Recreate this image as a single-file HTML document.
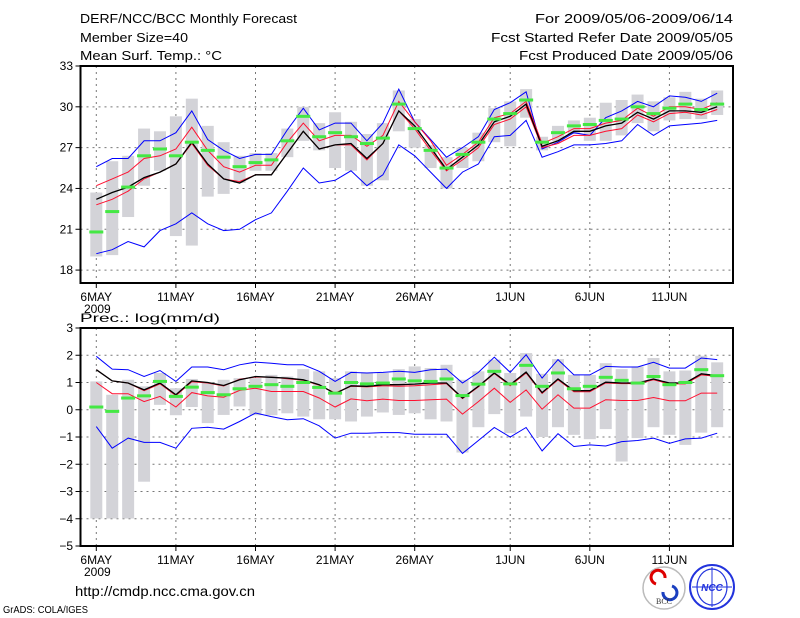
<!DOCTYPE html>
<html><head><meta charset="utf-8">
<style>
html,body{margin:0;padding:0;background:#fff;}
svg{display:block;font-family:"Liberation Sans",sans-serif;}
</style></head>
<body>
<svg id="chart" width="800" height="618" viewBox="0 0 800 618" xmlns="http://www.w3.org/2000/svg">
<g font-size="13" fill="#000">
<text x="80" y="23" textLength="217" lengthAdjust="spacingAndGlyphs">DERF/NCC/BCC Monthly Forecast</text>
<text x="80" y="42" textLength="108" lengthAdjust="spacingAndGlyphs">Member Size=40</text>
<text x="80" y="60" textLength="142" lengthAdjust="spacingAndGlyphs">Mean Surf. Temp.: °C</text>
<text x="535" y="23" textLength="198" lengthAdjust="spacingAndGlyphs">For 2009/05/06-2009/06/14</text>
<text x="491" y="42" textLength="242" lengthAdjust="spacingAndGlyphs">Fcst Started Refer Date 2009/05/05</text>
<text x="519" y="60" textLength="214" lengthAdjust="spacingAndGlyphs">Fcst Produced Date 2009/05/06</text>
<text x="80" y="322" font-size="12" textLength="140" lengthAdjust="spacingAndGlyphs">Prec.: log(mm/d)</text>
<text x="75" y="596" font-size="14" textLength="180" lengthAdjust="spacingAndGlyphs">http://cmdp.ncc.cma.gov.cn</text>
<text x="3" y="613" font-size="10" textLength="85" lengthAdjust="spacingAndGlyphs">GrADS: COLA/IGES</text>
</g>
<g>
<g>
<circle cx="664" cy="588" r="21" fill="#fff" stroke="#bbb" stroke-width="1.5"/>
<path d="M656 584 a7 7 0 1 1 9 -6" fill="none" stroke="#d00" stroke-width="3"/>
<path d="M672 586 a7 7 0 1 1 -9 6" fill="none" stroke="#1a3fc0" stroke-width="3"/>
<text x="664" y="604" font-size="8" text-anchor="middle" font-family="Liberation Serif,serif" fill="#333">BCC</text>
</g>
<g>
<circle cx="712" cy="587" r="22" fill="#fff" stroke="#2233dd" stroke-width="2"/>
<ellipse cx="712" cy="587" rx="15" ry="18" fill="none" stroke="#2233dd" stroke-width="1.2"/>
<line x1="692" y1="587" x2="732" y2="587" stroke="#2233dd"/>
<line x1="712" y1="567" x2="712" y2="607" stroke="#2233dd"/>
<text x="712" y="591" font-size="10" font-style="italic" font-weight="bold" text-anchor="middle" fill="#2233dd">NCC</text>
</g>
</g>
<g id="plots"></g>
</svg>
<script>
const tBlueHi=[25.6,26.2,26.2,27.5,27.5,28.1,29.7,27.6,26.8,26.2,26.5,26.5,28.3,29.9,28.3,28.8,28.8,27.5,28.8,31.3,28.9,27.6,26.3,27.0,27.8,29.8,30.3,31.1,26.9,27.4,28.1,27.9,29.2,29.7,30.4,30.0,30.8,30.7,30.4,31.0];
const tBlueLo=[19.2,19.5,20.1,19.7,20.9,21.4,22.2,21.4,20.9,21.0,21.7,22.2,23.8,25.5,24.4,24.6,25.3,24.2,25.0,27.2,26.4,25.2,24.0,25.2,25.8,27.8,27.9,29.0,26.3,26.7,27.2,27.2,27.3,27.5,28.7,27.9,28.6,28.7,28.8,29.0];
const tBlack=[23.2,23.7,24.1,24.8,25.2,25.8,27.4,25.8,24.7,24.4,25.0,25.0,26.6,28.2,26.9,27.2,27.3,26.2,27.3,29.7,28.6,27.0,25.4,26.3,27.2,28.9,29.3,30.2,27.1,27.5,28.2,28.2,28.6,28.8,29.6,29.1,29.7,29.7,29.6,30.0];
const tRedHi=[24.2,24.7,25.2,26.2,26.4,26.9,28.5,26.8,25.6,25.2,25.7,25.7,27.4,28.8,27.5,27.9,27.9,27.1,27.9,30.4,28.9,27.5,25.7,26.5,27.4,29.2,29.5,30.4,27.3,27.8,28.4,28.4,28.8,29.0,29.9,29.3,30.0,30.0,29.8,30.3];
const tRedLo=[22.8,23.2,23.8,24.7,25.2,25.8,27.3,25.7,24.7,24.5,25.0,25.0,26.6,28.2,26.9,27.2,27.2,26.1,27.3,29.7,28.4,26.8,25.3,26.1,27.0,28.7,29.1,30.0,27.0,27.3,27.9,27.9,28.2,28.4,29.4,28.9,29.5,29.6,29.4,29.8];
const tGreen=[20.8,22.3,24.1,26.4,26.9,26.4,27.4,26.8,26.3,25.6,25.9,26.1,27.5,29.3,27.8,28.1,27.8,27.3,27.7,30.2,28.4,26.8,25.5,26.5,27.4,29.1,29.5,30.5,27.4,28.1,28.6,28.7,29.0,29.1,30.0,29.5,29.9,30.2,29.8,30.2];
const tBoxHi=[23.7,26.0,26.4,28.4,28.2,29.3,30.6,28.6,27.4,26.4,26.6,26.6,28.4,30.0,28.8,29.6,28.9,28.0,28.8,31.2,29.1,27.2,26.3,27.0,28.1,29.9,30.4,31.3,27.8,28.6,29.0,29.2,30.3,30.5,30.9,30.4,30.7,31.1,30.6,31.2];
const tBoxLo=[19.0,19.1,21.9,24.2,25.3,20.5,19.8,23.4,23.6,24.4,25.3,25.3,26.3,27.5,26.8,25.5,25.3,24.2,24.6,28.2,27.0,25.5,24.0,25.5,26.0,27.4,27.1,29.2,26.8,27.5,28.0,27.5,27.5,27.9,28.8,28.2,29.0,29.1,29.1,29.4];
const tTicks=[18,21,24,27,30,33];
const pBlueHi=[1.96,1.49,1.47,1.22,1.44,1.04,1.57,1.57,1.47,1.65,1.75,1.71,1.65,1.65,1.41,1.04,1.37,1.35,1.37,1.41,1.37,1.47,1.49,0.98,1.37,1.93,1.37,2.02,1.16,1.84,1.28,1.28,1.59,1.57,1.57,1.74,1.53,1.53,1.9,1.84];
const pBlueLo=[-0.62,-1.41,-1.04,-1.2,-1.2,-1.41,-0.68,-0.64,-0.71,-0.43,-0.12,-0.25,-0.37,-0.33,-0.59,-1.04,-0.86,-0.86,-0.84,-0.84,-0.9,-0.9,-0.9,-1.6,-1.13,-0.65,-1.0,-0.65,-1.51,-0.88,-1.35,-1.29,-1.33,-1.17,-1.13,-1.04,-1.23,-1.07,-1.04,-0.86];
const pBlack=[1.47,1.06,0.98,0.73,0.98,0.55,1.06,1.0,0.89,1.1,1.22,1.19,1.16,1.1,0.92,0.59,0.88,0.86,0.92,0.92,0.94,0.98,0.98,0.43,0.86,1.35,0.92,1.38,0.63,1.13,0.70,0.70,1.01,0.98,0.98,1.13,0.98,0.98,1.32,1.25];
const pRedHi=[1.47,1.06,0.98,0.70,0.95,0.52,1.03,0.98,0.87,1.12,1.20,1.20,1.14,1.08,0.90,0.62,0.86,0.84,0.88,0.86,0.88,0.92,0.96,0.41,0.84,1.33,0.88,1.35,0.60,1.10,0.66,0.66,0.98,0.96,0.96,1.10,0.95,0.95,1.28,1.22];
const pRedLo=[1.0,0.59,0.59,0.30,0.49,0.1,0.63,0.51,0.46,0.71,0.79,0.67,0.67,0.67,0.43,0.1,0.40,0.33,0.39,0.34,0.34,0.37,0.39,-0.16,0.30,0.79,0.27,0.73,0.02,0.55,0.06,0.06,0.37,0.34,0.34,0.45,0.33,0.33,0.61,0.61];
const pGreen=[0.10,-0.06,0.43,0.51,1.04,0.49,0.83,0.63,0.55,0.77,0.86,0.92,0.86,1.0,0.82,0.61,1.0,0.95,0.98,1.13,1.06,1.04,1.13,0.52,0.94,1.41,0.95,1.63,0.86,1.35,0.77,0.86,1.19,1.08,0.98,1.22,0.92,1.0,1.47,1.25];
const pBoxHi=[1.04,0.55,1.1,0.86,1.35,0.79,1.13,1.0,1.1,1.16,1.16,1.28,1.22,1.49,1.41,1.16,1.41,1.37,1.35,1.49,1.59,1.53,1.65,1.1,1.41,1.84,1.35,2.08,1.32,1.86,1.28,1.28,1.71,1.49,1.59,1.9,1.41,1.44,1.98,1.74];
const pBoxLo=[-3.99,-3.99,-3.99,-2.64,0.18,-0.2,0.1,-0.49,-0.19,0.12,-0.2,-0.2,-0.13,-0.25,-0.35,-0.35,-0.43,-0.25,-0.1,-0.19,-0.13,-0.35,-0.43,-1.57,-0.64,-0.16,-0.86,-0.25,-1.0,-0.64,-0.92,-1.08,-0.71,-1.9,-1.04,-0.64,-0.92,-1.29,-0.84,-0.64];
const pTicks=[-5,-4,-3,-2,-1,0,1,2,3];
const xTickDays=[0,5,10,15,20,26,31,36];
const xTickLabels=["6MAY","11MAY","16MAY","21MAY","26MAY","1JUN","6JUN","11JUN"];

const NS="http://www.w3.org/2000/svg";
const root=document.getElementById('plots');
function mk(tag,attrs,parent){const e=document.createElementNS(NS,tag);for(const k in attrs)e.setAttribute(k,attrs[k]);(parent||root).appendChild(e);return e;}
function xs(i){return 96.3+i*15.92;}

function drawPanel(name,top,bottom,vmin,vmax,ticks,boxHi,boxLo,green,black,redHi,redLo,blueHi,blueLo){
  const L=80.5,R=733;
  const ys=v=>top+(vmax-v)*(bottom-top)/(vmax-vmin);
  const g=mk('g',{});
  
  
  ticks.forEach(t=>{
    if(t>vmin&&t<vmax){const l=mk('line',{x1:L,x2:R,y1:ys(t),y2:ys(t),stroke:'#777','stroke-dasharray':'2,4','stroke-width':1},g);
    
    }
    const tk=mk('line',{x1:L-5,x2:L,y1:ys(t),y2:ys(t),stroke:'#000'},g);
    
    
    const tx=mk('text',{x:73,y:ys(t)+4,'font-size':12,'text-anchor':'end'},g);
    tx.textContent=(t<0?'\u2212'+(-t):String(t));
    
    
  });
  xTickDays.forEach((d,k)=>{
    const x=xs(d);
    const l=mk('line',{x1:x,x2:x,y1:top,y2:bottom,stroke:'#777','stroke-dasharray':'2,4'},g);
    
    
    const tk=mk('line',{x1:x,x2:x,y1:bottom,y2:bottom+5,stroke:'#000'},g);
    
    
    const tx=mk('text',{x:x,y:bottom+18,'font-size':12,'text-anchor':'middle'},g);
    tx.textContent=xTickLabels[k];
    
    
  });
  const yr=mk('text',{x:84,y:bottom+30,'font-size':12},g);
  yr.textContent='2009';
  
  
  boxHi.forEach((h,i)=>{
    const r=mk('rect',{x:xs(i)-6,y:ys(h),width:12,height:ys(boxLo[i])-ys(h),fill:'#d3d3d8'},g);
    
    
  });
  const lines=[[blueHi,'#0000ff',1,'blue-upper-line'],[blueLo,'#0000ff',1,'blue-lower-line'],[redHi,'#ff1030',1,'red-upper-line'],[redLo,'#ff1030',1,'red-lower-line'],[black,'#000',1.3,'ensemble-mean-line']];
  lines.forEach(([arr,c,w,nm])=>{
    const p=mk('polyline',{points:arr.map((v,i)=>xs(i).toFixed(1)+','+ys(v).toFixed(1)).join(' '),fill:'none',stroke:c,'stroke-width':w},g);
    
    
  });
  green.forEach((v,i)=>{
    const r=mk('rect',{x:xs(i)-7,y:ys(v)-1.5,width:14,height:3,fill:'#44e844'},g);
    
    
  });
  const f=mk('rect',{x:L,y:top,width:R-L,height:bottom-top,fill:'none',stroke:'#000','stroke-width':2},g);
  
  
}
drawPanel('temperature',66,283,17.05,33,tTicks,tBoxHi,tBoxLo,tGreen,tBlack,tRedHi,tRedLo,tBlueHi,tBlueLo);
drawPanel('precipitation',328,546,-5,3,pTicks,pBoxHi,pBoxLo,pGreen,pBlack,pRedHi,pRedLo,pBlueHi,pBlueLo);
</script>
</body></html>
